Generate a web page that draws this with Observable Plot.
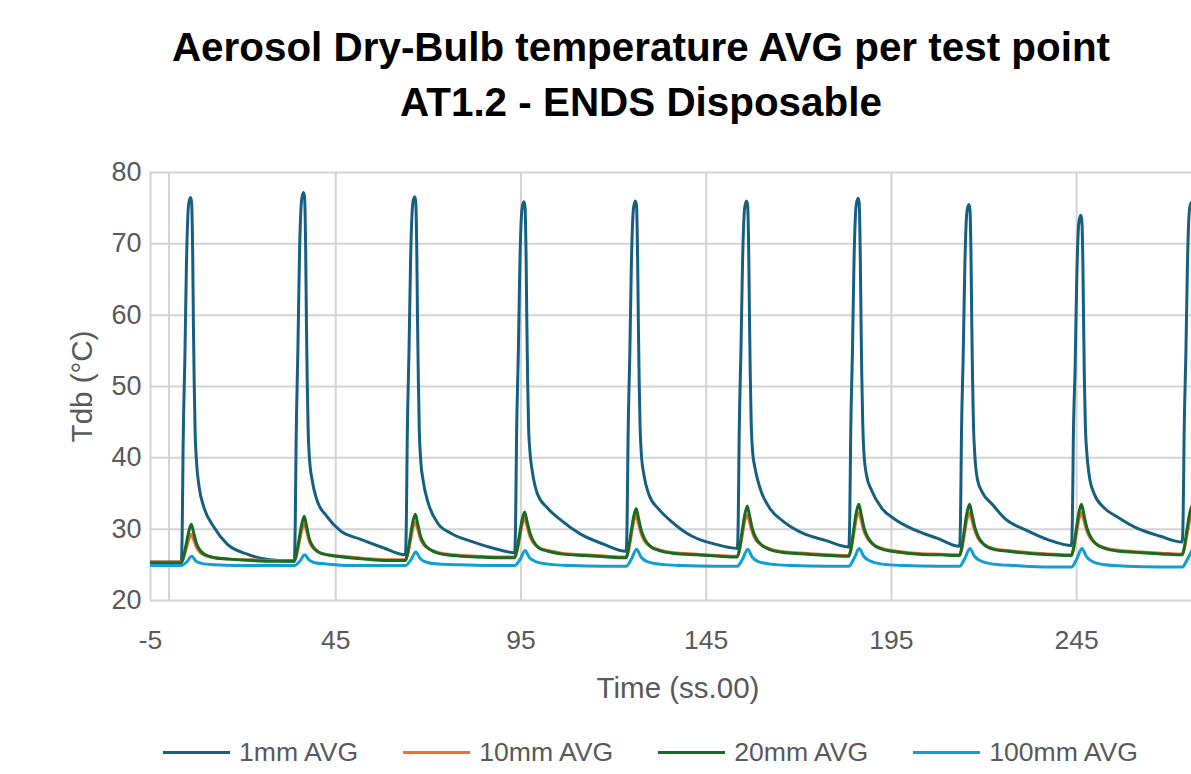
<!DOCTYPE html>
<html>
<head>
<meta charset="utf-8">
<script src="https://cdn.jsdelivr.net/npm/d3@7"></script>
<script src="https://cdn.jsdelivr.net/npm/@observablehq/plot@0.6"></script>
<style>
  html, body { margin: 0; padding: 0; background: #fff; }
  body { width: 1191px; height: 774px; overflow: hidden; font-family: "Liberation Sans", Arial, sans-serif; }
  #title { height: 130px; box-sizing: border-box; padding-top: 20px; width: 1282px; text-align: center;
           font-weight: bold; font-size: 40.4px; line-height: 55px; color: #000; }
  #chart svg { display: block; }
  #legend { display: flex; gap: 45px; margin-top: 22px; padding-left: 163px; height: 30px; align-items: center; }
  .item { display: flex; align-items: center; gap: 9px; font-size: 26.6px; color: #595959; line-height: 30px; white-space: nowrap; }
  .sw { width: 67px; height: 3px; }
</style>
</head>
<body>
<div id="title">Aerosol Dry-Bulb temperature AVG per test point<br>AT1.2 - ENDS Disposable</div>
<div id="chart"></div>
<div id="legend"></div>
<script>
// ---- data ----
const seriesNames = ["1mm AVG", "10mm AVG", "20mm AVG", "100mm AVG"];
const seriesColors = ["#156082", "#E97132", "#196B24", "#0F9ED5"];
const xTicks = [-5, 45, 95, 145, 195, 245];
const yTicks = [20, 30, 40, 50, 60, 70, 80];

// 1mm AVG
const t1mm = [-5,
 3.3,3.55,3.8,4.3,4.7,5.3,5.8,6.1,6.4,6.6,6.8,7.05,7.4,8.1,9.4,12.1,15.7,21.1,27.3,
 33.8,34.05,34.3,34.8,35.2,35.8,36.3,36.6,36.9,37.1,37.3,37.55,37.9,38.6,39.9,42.6,46.2,51.6,57.8,
 63.8,64.05,64.3,64.8,65.2,65.8,66.3,66.6,66.9,67.1,67.3,67.55,67.9,68.6,69.9,72.6,76.2,81.6,87.8,
 93.3,93.55,93.8,94.3,94.7,95.3,95.8,96.1,96.4,96.6,96.8,97.05,97.4,98.1,99.4,102.1,105.7,111.1,117.3,
 123.4,123.65,123.9,124.4,124.8,125.4,125.9,126.2,126.5,126.7,126.9,127.15,127.5,128.2,129.5,132.2,135.8,141.2,147.4,
 153.4,153.65,153.9,154.4,154.8,155.4,155.9,156.2,156.5,156.7,156.9,157.15,157.5,158.2,159.5,162.2,165.8,171.2,177.4,
 183.5,183.75,184.0,184.5,184.9,185.5,186.0,186.3,186.6,186.8,187.0,187.25,187.6,188.3,189.6,192.3,195.9,201.3,207.5,
 213.4,213.65,213.9,214.4,214.8,215.4,215.9,216.2,216.5,216.7,216.9,217.15,217.5,218.2,219.5,222.2,225.8,231.2,237.4,
 243.6,243.85,244.1,244.6,245.0,245.6,246.1,246.4,246.7,246.9,247.1,247.35,247.7,248.4,249.7,252.4,256.0,261.4,267.6,
 273.5,273.75,274.0,274.5,274.9,275.5,276.0,276.3];
const v1mm = [25.4,
 25.4,29.5,41.5,54.6,67.0,75.6,76.5,75.8,68.0,58.0,50.5,43.5,39.6,36.0,33.1,30.3,27.9,26.5,25.7,
 25.5,29.8,42.0,55.5,68.0,76.2,77.2,76.5,68.5,58.5,51.0,44.0,40.0,37.0,34.1,31.8,29.8,28.6,27.4,
 26.4,30.5,42.5,55.5,67.5,75.7,76.6,75.9,68.0,58.5,51.0,44.0,40.0,36.8,33.8,30.8,29.4,28.3,27.3,
 26.7,30.8,42.5,55.0,67.0,75.0,75.9,75.2,67.5,58.5,51.0,44.5,41.0,38.0,35.0,33.0,31.3,29.3,27.9,
 26.9,31.0,42.5,55.0,67.0,75.1,76.0,75.3,67.5,58.5,51.0,44.5,40.5,37.6,34.9,32.8,31.0,29.0,27.9,
 27.3,31.3,43.0,55.5,67.0,75.1,76.0,75.3,68.0,59.0,51.5,45.0,41.0,38.5,35.8,32.9,31.1,29.4,28.4,
 27.5,31.5,43.0,55.5,67.5,75.5,76.4,75.7,68.0,59.0,51.5,45.0,40.5,37.5,35.5,33.0,31.4,29.9,28.7,
 27.6,31.5,43.0,55.0,66.5,74.6,75.5,74.8,67.5,58.5,51.0,44.5,40.5,37.0,35.2,33.5,31.4,29.9,28.5,
 27.7,31.5,42.5,53.0,64.5,73.0,74.0,73.3,66.5,58.0,50.5,44.5,41.0,37.5,35.0,33.0,31.7,30.1,29.0,
 28.2,32.0,43.0,55.0,67.0,75.0,75.8,75.1];

// 10mm AVG and 20mm AVG (shared sample times)
const tMid = [-5,
 3.3,3.8,4.6,5.3,6.0,6.6,7.4,8.3,9.8,12.3,16.3,22.3,28.3,
 33.8,34.3,35.1,35.8,36.5,37.1,37.9,38.8,40.3,42.8,46.8,52.8,58.8,
 63.8,64.3,65.1,65.8,66.5,67.1,67.9,68.8,70.3,72.8,76.8,82.8,88.8,
 93.3,93.8,94.6,95.3,96.0,96.6,97.4,98.3,99.8,102.3,106.3,112.3,118.3,
 123.4,123.9,124.7,125.4,126.1,126.7,127.5,128.4,129.9,132.4,136.4,142.4,148.4,
 153.4,153.9,154.7,155.4,156.1,156.7,157.5,158.4,159.9,162.4,166.4,172.4,178.4,
 183.5,184.0,184.8,185.5,186.2,186.8,187.6,188.5,190.0,192.5,196.5,202.5,208.5,
 213.4,213.9,214.7,215.4,216.1,216.7,217.5,218.4,219.9,222.4,226.4,232.4,238.4,
 243.6,244.1,244.9,245.6,246.3,246.9,247.7,248.6,250.1,252.6,256.6,262.6,268.6,
 273.5,274.0,274.8,275.5,276.2];
const v10mm = [25.4,
 25.4,25.8,27.2,28.5,29.3,28.6,27.5,26.8,26.3,26.0,25.8,25.7,25.6,
 25.6,26.1,28.0,29.8,30.7,29.8,28.2,27.4,26.8,26.4,26.2,25.9,25.7,
 25.7,26.2,28.2,30.1,31.0,30.1,28.6,27.8,27.2,26.7,26.4,26.2,26.1,
 26.1,26.6,28.6,30.6,31.5,30.5,29.0,28.1,27.4,27.0,26.6,26.4,26.2,
 26.1,26.7,28.9,31.0,31.9,30.8,29.3,28.3,27.6,27.1,26.7,26.5,26.3,
 26.2,26.8,29.0,31.1,32.0,31.0,29.5,28.5,27.8,27.2,26.8,26.6,26.4,
 26.3,26.9,29.2,31.4,32.3,31.3,29.7,28.7,27.9,27.3,26.9,26.6,26.5,
 26.4,27.0,29.3,31.4,32.3,31.3,29.8,28.7,27.9,27.3,27.0,26.7,26.5,
 26.4,27.0,29.3,31.4,32.3,31.3,29.8,28.8,28.0,27.4,27.0,26.8,26.6,
 26.5,27.1,29.3,31.2,32.1];
const v20mm = [25.3,
 25.3,25.9,27.8,29.6,30.7,29.6,28.0,27.1,26.4,26.0,25.8,25.6,25.5,
 25.5,26.3,28.6,30.6,31.8,30.5,28.6,27.6,26.8,26.4,26.1,25.8,25.6,
 25.6,26.4,28.8,31.0,32.1,30.8,29.0,28.0,27.2,26.6,26.3,26.1,26.0,
 26.0,26.8,29.2,31.3,32.4,31.2,29.5,28.4,27.4,26.9,26.5,26.3,26.1,
 26.0,26.9,29.5,31.7,32.9,31.6,29.8,28.6,27.6,27.0,26.6,26.4,26.2,
 26.1,27.0,29.7,32.0,33.2,31.9,30.0,28.8,27.8,27.1,26.7,26.5,26.3,
 26.2,27.1,29.9,32.3,33.5,32.2,30.2,29.0,27.9,27.2,26.8,26.5,26.4,
 26.3,27.2,30.0,32.3,33.5,32.2,30.3,29.0,27.9,27.2,26.9,26.6,26.4,
 26.3,27.2,30.0,32.3,33.5,32.2,30.3,29.1,28.0,27.3,26.9,26.7,26.5,
 26.4,27.3,30.0,32.2,33.4];

// 100mm AVG
const t100mm = [-5,
 3.3,4.8,6.1,7.3,8.8,12.3,18.3,27.3,
 33.8,35.3,36.6,37.8,39.3,42.8,48.8,57.8,
 63.8,65.3,66.6,67.8,69.3,72.8,78.8,87.8,
 93.3,94.8,96.1,97.3,98.8,102.3,108.3,117.3,
 123.4,124.9,126.2,127.4,128.9,132.4,138.4,147.4,
 153.4,154.9,156.2,157.4,158.9,162.4,168.4,177.4,
 183.5,185.0,186.3,187.5,189.0,192.5,198.5,207.5,
 213.4,214.9,216.2,217.4,218.9,222.4,228.4,237.4,
 243.6,245.1,246.4,247.6,249.1,252.6,258.6,267.6,
 273.5,275.0,276.3];
const v100mm = [24.9,
 24.9,25.4,26.2,25.5,25.2,25.0,24.9,24.9,
 24.9,25.5,26.4,25.7,25.3,25.1,24.9,24.9,
 24.9,25.7,26.8,25.9,25.4,25.1,25.0,24.9,
 24.9,25.8,27.0,26.0,25.5,25.1,24.9,24.8,
 24.8,25.9,27.2,26.1,25.5,25.1,24.9,24.8,
 24.8,25.9,27.2,26.1,25.5,25.1,24.9,24.8,
 24.8,26.0,27.3,26.2,25.6,25.1,24.9,24.8,
 24.8,26.0,27.3,26.2,25.6,25.1,24.9,24.7,
 24.7,25.9,27.3,26.2,25.5,25.0,24.8,24.7,
 24.7,25.9,27.2];

// ---- build ----
const pairs = (ts, vs) => ts.map((t, i) => ({t, v: vs[i]}));
const seriesData = [pairs(t1mm, v1mm), pairs(tMid, v10mm), pairs(tMid, v20mm), pairs(t100mm, v100mm)];
const gridX = [...xTicks, 0];
const grey = "#595959";

const lineMarks = seriesData.map((d, i) =>
  Plot.line(d, {x: "t", y: "v", stroke: seriesColors[i], strokeWidth: 3, clip: true, strokeLinejoin: "round", curve: "monotone-x"}));

const chart = Plot.plot({
  width: 1191, height: 585,
  marginTop: 42, marginBottom: 115, marginLeft: 150, marginRight: 0,
  x: {domain: [-5, 276]},
  y: {domain: [20, 80]},
  style: {fontFamily: "'Liberation Sans', Arial, sans-serif", color: grey, background: "transparent", overflow: "visible"},
  marks: [
    Plot.ruleY(yTicks, {stroke: "#d4d4d4", strokeWidth: 2}),
    Plot.ruleX(gridX, {stroke: "#d4d4d4", strokeWidth: 2}),
    Plot.axisX({ticks: xTicks, tickSize: 0, tickPadding: 30, fontSize: 26.5, fill: grey, label: null, tickFormat: d => String(d)}),
    Plot.axisY({ticks: yTicks, tickSize: 0, tickPadding: 9, fontSize: 27, fill: grey, label: null, tickFormat: d => String(d)}),
    Plot.text(["Time (ss.00)"], {text: d => d, frameAnchor: "bottom", dy: 88, dx: 7, fontSize: 29.5, fill: grey, textAnchor: "middle", lineAnchor: "middle"}),
    Plot.text(["Tdb (°C)"], {text: d => d, frameAnchor: "left", dx: -68, rotate: -90, fontSize: 29.5, fill: grey, textAnchor: "middle", lineAnchor: "middle"}),
    ...lineMarks
  ]
});
document.getElementById("chart").appendChild(chart);

const legend = document.getElementById("legend");
seriesNames.forEach((name, i) => {
  const item = document.createElement("div");
  item.className = "item";
  const sw = document.createElement("div");
  sw.className = "sw";
  sw.style.background = seriesColors[i];
  const lab = document.createElement("span");
  lab.textContent = name;
  item.appendChild(sw);
  item.appendChild(lab);
  legend.appendChild(item);
});
</script>
</body>
</html>
